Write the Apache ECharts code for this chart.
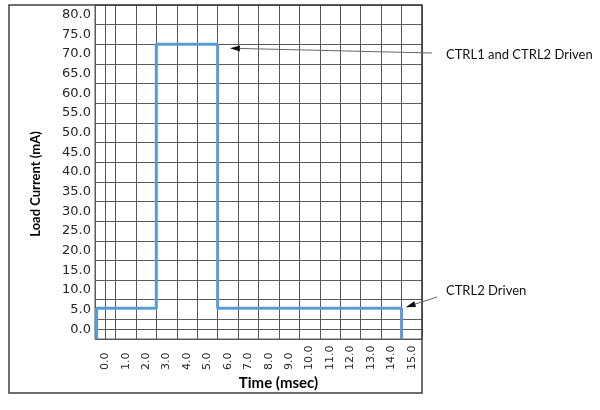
<!DOCTYPE html>
<html>
<head>
<meta charset="utf-8">
<title>Load Current</title>
<script src="https://cdn.jsdelivr.net/npm/echarts@6/dist/echarts.min.js"></script>
<style>
html,body{margin:0;padding:0;background:#fff;}
#chart{width:600px;height:410px;}
</style>
</head>
<body>
<div id="chart"></div>
<script>
// tick labels (Excel style, label sits in the middle of each cell)
var timeLabels = ['0.0','1.0','2.0','3.0','4.0','5.0','6.0','7.0','8.0','9.0','10.0','11.0','12.0','13.0','14.0','15.0'];
var currentLabels = ['0.0','5.0','10.0','15.0','20.0','25.0','30.0','35.0','40.0','45.0','50.0','55.0','60.0','65.0','70.0','75.0','80.0'];

// load current trace (msec / mA)
var timeMs = [-0.42, -0.42, 2.5, 2.5, 5.5, 5.5, 14.5, 14.5];
var loadmA = [-2.5, 5.3, 5.3, 72.5, 72.5, 5.3, 5.3, -2.5];

// notes and where their arrows point (msec / mA)
var noteText = ['CTRL1 and CTRL2 Driven', 'CTRL2 Driven'];
var noteTip = [[6.1, 71.5], [14.7, 5.6]];

var gridColor = '#595959';
var chart = echarts.init(document.getElementById('chart'));

var traceData = [];
for (var i = 0; i < timeMs.length; i++) {
    traceData.push([timeMs[i], loadmA[i]]);
}

var option = {
    animation: false,
    backgroundColor: '#fff',
    grid: {left: 95, right: 178, top: 5, bottom: 71, show: true, borderColor: gridColor, borderWidth: 1},
    xAxis: [{
        type: 'category',
        data: timeLabels,
        boundaryGap: true,
        axisLine: {show: true, lineStyle: {color: gridColor}},
        axisTick: {show: false},
        splitLine: {show: true, interval: 0, lineStyle: {color: gridColor, width: 1}},
        // labels start at a common baseline under the axis and read upwards
        axisLabel: {interval: 0, rotate: 90, align: 'left', margin: 31, fontFamily: 'DejaVu Sans', fontSize: 11, color: '#262626'},
        name: 'Time (msec)',
        nameLocation: 'middle',
        nameGap: 37,
        nameMoveOverlap: false,
        nameTextStyle: {fontFamily: 'Lato', fontWeight: 'bold', fontSize: 15, color: '#000', padding: [0, 0, 0, 40]}
    }, {
        type: 'value', min: -0.5, max: 15.5, show: false
    }],
    yAxis: [{
        type: 'category',
        data: currentLabels,
        boundaryGap: true,
        axisLine: {show: true, lineStyle: {color: gridColor}},
        axisTick: {show: false},
        splitLine: {show: true, interval: 0, lineStyle: {color: gridColor, width: 1}},
        axisLabel: {interval: 0, margin: 4, fontFamily: 'DejaVu Sans', fontSize: 13, color: '#262626'},
        name: 'Load Current (mA)',
        nameLocation: 'middle',
        nameRotate: 90,
        nameGap: 53,
        nameMoveOverlap: false,
        nameTextStyle: {fontFamily: 'Lato', fontWeight: 'bold', fontSize: 13, color: '#000', padding: [0, 24, 0, 0]}
    }, {
        type: 'value', min: -2.5, max: 82.5, show: false
    }],
    series: [{
        type: 'line',
        xAxisIndex: 1,
        yAxisIndex: 1,
        data: traceData,
        symbol: 'none',
        clip: false,
        lineStyle: {color: '#5B9BD5', width: 3}
    }]
};
chart.setOption(option);

// notes: text + thin line + filled arrow head, tip found through the axes
var noteLayout = [
    {textX: 446, textY: 55, tailX: 432, tailY: 53},
    {textX: 446, textY: 291, tailX: 437, tailY: 297}
];
var graphics = [{
    type: 'rect',
    shape: {x: 9, y: 5, width: 413, height: 388},
    style: {fill: null, stroke: '#404040', lineWidth: 1.5},
    z: 10
}];
for (var n = 0; n < noteText.length; n++) {
    var tip = chart.convertToPixel({xAxisIndex: 1, yAxisIndex: 1}, noteTip[n]);
    var lay = noteLayout[n];
    var dx = tip[0] - lay.tailX, dy = tip[1] - lay.tailY;
    var len = Math.sqrt(dx * dx + dy * dy);
    var ux = dx / len, uy = dy / len;
    var bx = tip[0] - ux * 10, by = tip[1] - uy * 10;
    graphics.push({
        type: 'line',
        shape: {x1: lay.tailX, y1: lay.tailY, x2: bx, y2: by},
        style: {stroke: '#666', lineWidth: 1},
        z: 10
    });
    graphics.push({
        type: 'polygon',
        shape: {points: [[tip[0], tip[1]], [bx - uy * 3, by + ux * 3], [bx + uy * 3, by - ux * 3]]},
        style: {fill: '#111'},
        z: 10
    });
    graphics.push({
        type: 'text',
        x: lay.textX,
        y: lay.textY,
        style: {text: noteText[n], fontFamily: 'Lato', fontSize: 13, fill: '#111', verticalAlign: 'middle'},
        z: 10
    });
}
chart.setOption({graphic: graphics});
</script>
</body>
</html>
